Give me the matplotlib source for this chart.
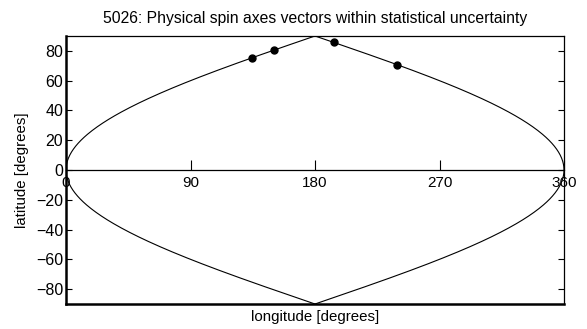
import numpy as np
import matplotlib
matplotlib.use('Agg')
from matplotlib import pyplot as plt

plt.rcParams['font.family'] = ['Liberation Sans', 'DejaVu Sans']
plt.rcParams['font.size'] = 11

# Spin axis solutions (projected longitude, latitude), degrees
spin_lon = [134.5, 150.0, 193.5, 239.0]
spin_lat = [75.5, 80.5, 85.8, 70.5]

xticks = [0, 90, 180, 270, 360]
yticks = [-80, -60, -40, -20, 0, 20, 40, 60, 80]

# Outline of the sinusoidal projection
lat = np.linspace(-90, 90, 361)
left_edge = 180 - 180 * np.cos(np.radians(lat))
right_edge = 180 + 180 * np.cos(np.radians(lat))

fig = plt.figure(figsize=(5.87, 3.29), dpi=100)
ax = fig.add_axes([66 / 587, 1 - 304 / 329, 498 / 587, 268 / 329])

ax.plot(left_edge, lat, color='black', lw=0.8)
ax.plot(right_edge, lat, color='black', lw=0.8)
ax.plot(spin_lon, spin_lat, 'o', color='black', markersize=5)

ax.set_xlim(0, 360)
ax.set_ylim(-90, 90)

# x axis runs along the equator, frame bottom drawn separately
ax.spines['bottom'].set_position(('data', 0))
ax.spines['bottom'].set_linewidth(0.9)
ax.plot([0, 1], [0, 0], transform=ax.transAxes, color='black', lw=1.8, clip_on=False)
ax.spines['left'].set_linewidth(1.8)
ax.spines['top'].set_linewidth(0.9)
ax.spines['right'].set_linewidth(0.9)

ax.set_xticks(xticks)
ax.set_yticks(yticks)
ax.tick_params(axis='x', direction='in', length=7, width=0.8, pad=4, labelsize=11)
ax.tick_params(axis='y', direction='in', length=4, width=0.8, pad=2, right=True, labelsize=11.5)

ax.set_title('5026: Physical spin axes vectors within statistical uncertainty', fontsize=11.3, pad=9)
ax.set_xlabel('longitude [degrees]', fontsize=10.8)
ax.xaxis.set_label_coords(0.5, -0.022)
ax.set_ylabel('latitude [degrees]', fontsize=10.8, labelpad=5)

fig.savefig('out.png', dpi=100)
